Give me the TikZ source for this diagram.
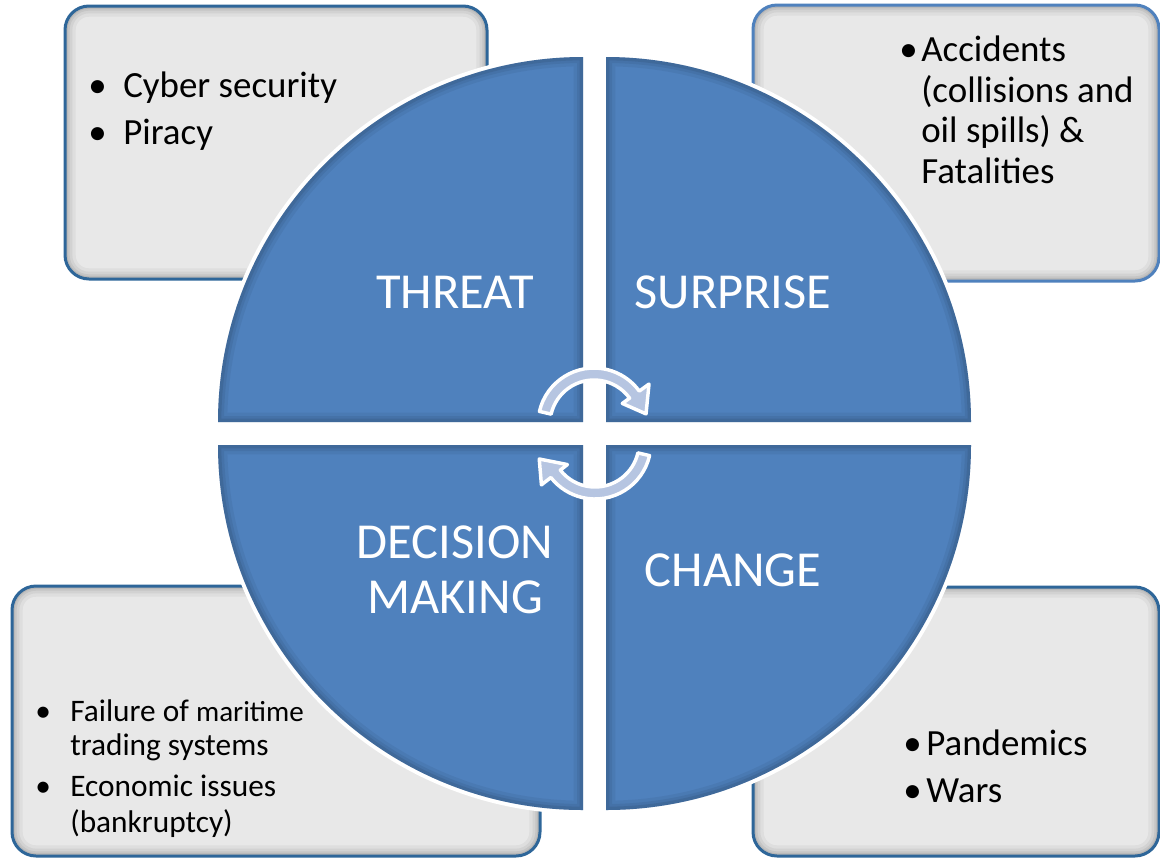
\documentclass[tikz,border=0pt]{standalone}
\usepackage{fontspec}
\setmainfont{Carlito}
\definecolor{qblue}{HTML}{4F81BD}
\definecolor{boxgrey}{HTML}{E8E8E8}
\definecolor{bdark}{HTML}{2E6699}
\definecolor{blight}{HTML}{4F81BD}
\definecolor{arrowfill}{HTML}{B6C5E1}
\newcommand\mybox[5]{%
  \fill[boxgrey, rounded corners=18pt] (#1,#2) rectangle (#3,#4);
  \begin{scope}
    \clip[rounded corners=18pt] (#1,#2) rectangle (#3,#4);
    \foreach \w/\o in {16/0.04, 11/0.05, 7/0.06, 4/0.08}{%
      \draw[line width=\w pt, black, opacity=\o, rounded corners=18pt] (#1,#2) rectangle (#3,#4);}
  \end{scope}
  \draw[#5, line width=2.25pt, rounded corners=18pt] (#1,#2) rectangle (#3,#4);
}
\newcommand\myquad[1]{%
  \draw[white, line width=6pt, line join=round] #1;
  \fill[qblue] #1;
  \begin{scope}
    \clip #1;
    \foreach \w/\o in {14/0.05, 9/0.06, 5/0.08}{%
      \draw[line width=\w pt, black, opacity=\o] #1;}
  \end{scope}
}
\begin{document}
\begin{tikzpicture}[x=0.75pt,y=-0.75pt,
  qtext/.style={font=\fontsize{37.8}{42}\selectfont, text=white, anchor=base, inner sep=0pt},
  btext/.style={font=\fontsize{27.7}{33}\selectfont, text=black, anchor=base west, inner sep=0pt},
  stext/.style={font=\fontsize{23.5}{28}\selectfont, text=black, anchor=base west, inner sep=0pt},
  arrowshape/.style={fill=arrowfill, draw=white, line width=2.6pt, line join=round}
]
\useasboundingbox (0,0) rectangle (1160,858);
\fill[white] (0,0) rectangle (1160,858);

% boxes
\mybox{65}{6}{487}{279}{bdark}
\mybox{753}{5}{1159}{281}{blight}
\mybox{12}{586}{540}{856}{bdark}
\mybox{753}{587}{1159}{856}{bdark}

% quadrants
\myquad{(583,422) -- (218,422) arc[start angle=180,end angle=270,radius=365] -- cycle}
\myquad{(606,422) -- (606,57) arc[start angle=270,end angle=360,radius=365] -- cycle}
\myquad{(606,445) -- (971,445) arc[start angle=0,end angle=90,radius=365] -- cycle}
\myquad{(583,445) -- (583,810) arc[start angle=90,end angle=180,radius=365] -- cycle}

% circular arrows
\path[arrowshape, shift={(594,424)}] (193:56) arc[start angle=193,end angle=324,radius=56]
  -- (324:68) -- (349:53) -- (324:35) -- (324:44)
  arc[start angle=324,end angle=193,radius=44] -- cycle;
\path[arrowshape, shift={(595,443)}] (13:56) arc[start angle=13,end angle=142,radius=56]
  -- (142:68) -- (164:58) -- (142:35) -- (142:44)
  arc[start angle=142,end angle=13,radius=44] -- cycle;

% quadrant labels
\node[qtext] (threat) at (455,308) {THREAT};
\node[qtext] (surprise) at (733,308) {SURPRISE};
\node[qtext] (change) at (733,586) {CHANGE};
\node[qtext] (decision) at (455,558) {DECISION};
\node[qtext] (making) at (455,613) {MAKING};

% top-left box text
\node[btext] (tlb1) at (88,97) {•};
\node[btext] (tl1) at (123,97) {Cyber security};
\node[btext] (tlb2) at (88,144) {•};
\node[btext] (tl2) at (123,144) {Piracy};

% top-right box text
\node[btext] (trb1) at (899,61) {•};
\node[btext] (tr1) at (921,61) {Accidents};
\node[btext] (tr2) at (921,102) {(collisions and};
\node[btext] (tr3) at (921,142) {oil spills) \&};
\node[btext] (tr4) at (921,183) {Fatalities};

% bottom-right box text
\node[btext] (brb1) at (903,755) {•};
\node[btext] (br1) at (926,755) {Pandemics};
\node[btext] (brb2) at (903,802) {•};
\node[btext] (br2) at (926,802) {Wars};

% bottom-left box text
\node[stext] (blb1) at (35,721) {•};
\node[stext] (bl1) at (70,721) {Failure of {\fontsize{21.8}{26}\selectfont maritime}};
\node[stext] (bl2) at (70,755) {trading systems};
\node[stext] (blb2) at (35,796) {•};
\node[stext] (bl3) at (70,796) {Economic issues};
\node[stext] (bl4) at (70,832) {(bankruptcy)};
\end{tikzpicture}
\end{document}
